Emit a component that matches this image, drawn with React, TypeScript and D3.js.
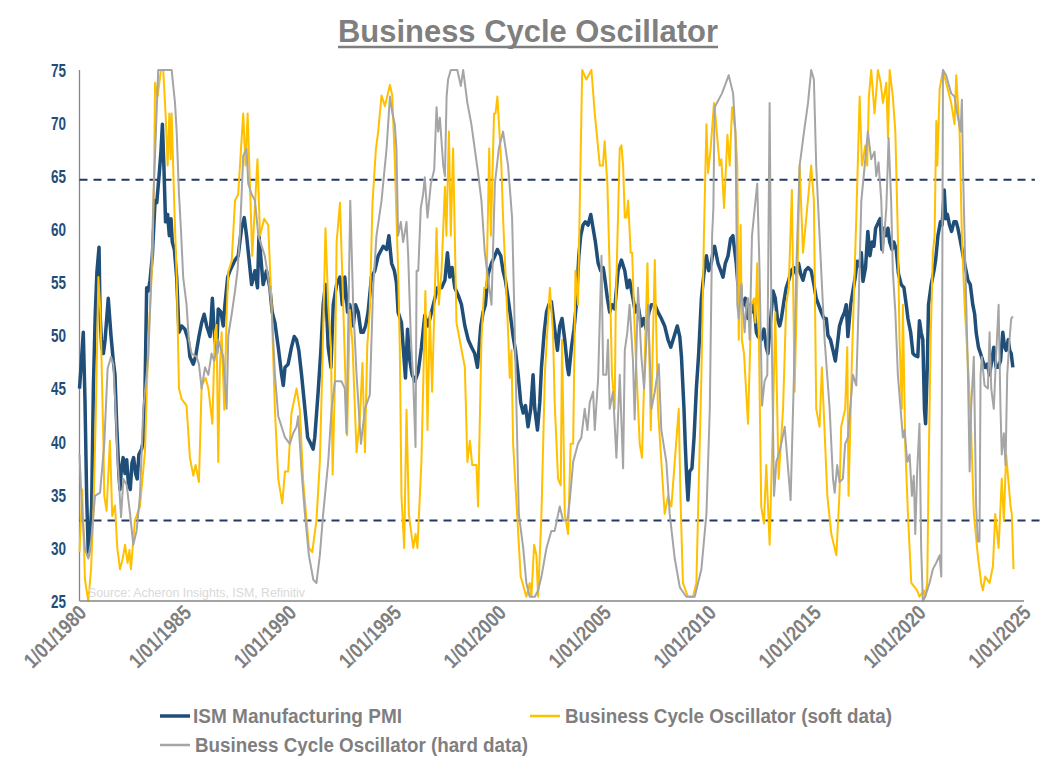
import React from "react";
import * as d3 from "d3";

type Pt = [number, number];

// ISM Manufacturing PMI  [decimal year, value]
const pmi: Pt[] = [
  [1980.0,45.0],[1980.07,47.0],[1980.18,50.3],[1980.26,44.0],[1980.34,35.0],[1980.42,29.3],[1980.5,30.5],[1980.58,34.0],[1980.66,45.0],[1980.75,52.0],[1980.83,56.0],[1980.93,58.3],[1980.98,52.0],[1981.06,48.9],[1981.14,48.3],[1981.22,49.6],[1981.37,53.5],[1981.5,50.0],[1981.61,47.6],[1981.69,46.3],[1981.77,41.7],[1981.88,36.8],[1981.93,35.5],[1982.0,37.5],[1982.08,38.5],[1982.17,37.0],[1982.25,38.3],[1982.33,36.0],[1982.42,35.5],[1982.5,38.0],[1982.58,38.5],[1982.67,37.0],[1982.75,36.5],[1982.83,38.8],[1982.96,39.3],[1983.04,40.1],[1983.12,44.7],[1983.2,54.5],[1983.28,54.2],[1983.36,55.2],[1983.47,57.5],[1983.6,62.7],[1983.68,62.5],[1983.79,65.0],[1983.88,67.3],[1983.95,69.9],[1984.02,66.0],[1984.1,60.7],[1984.2,61.4],[1984.28,59.4],[1984.36,61.0],[1984.42,58.8],[1984.52,58.1],[1984.63,55.5],[1984.74,50.3],[1984.87,50.9],[1985.02,50.6],[1985.18,49.6],[1985.26,48.0],[1985.42,47.3],[1985.53,48.0],[1985.69,49.9],[1985.82,51.2],[1985.94,52.0],[1986.06,50.9],[1986.22,49.9],[1986.33,53.5],[1986.42,50.3],[1986.53,48.3],[1986.61,52.5],[1986.74,52.2],[1986.85,50.9],[1986.93,52.9],[1987.06,55.5],[1987.17,56.1],
  [1987.41,57.1],[1987.56,57.5],[1987.72,60.1],[1987.85,61.1],[1987.96,59.4],[1988.2,54.8],[1988.36,56.1],[1988.48,54.5],[1988.55,59.4],[1988.75,54.8],[1988.91,56.1],[1989.07,54.5],[1989.18,52.2],[1989.31,51.2],[1989.47,48.9],[1989.63,46.3],[1989.71,45.3],[1989.79,47.0],[1989.94,47.3],[1990.1,48.9],[1990.23,49.9],[1990.34,49.6],[1990.45,48.6],[1990.58,46.3],[1990.74,43.1],[1990.87,40.4],[1991.02,39.8],[1991.13,39.3],[1991.21,40.4],[1991.37,44.7],[1991.5,48.6],[1991.61,52.9],[1991.72,54.8],[1991.85,48.9],[1991.98,47.0],[1992.09,52.9],[1992.25,54.8],[1992.41,55.5],[1992.52,52.9],[1992.64,55.5],[1992.77,52.2],[1992.88,52.9],[1993.04,50.9],[1993.15,52.9],[1993.28,52.2],[1993.41,50.3],[1993.52,50.3],[1993.63,50.9],[1993.75,52.2],[1993.91,55.5],[1994.07,56.1],[1994.23,57.5],[1994.47,58.4],[1994.63,58.1],[1994.74,59.4],[1994.87,56.8],[1995.0,56.1],
  [1995.1,55.0],[1995.18,52.2],[1995.34,51.2],[1995.47,47.6],[1995.53,46.0],[1995.63,50.6],[1995.74,47.6],[1995.85,46.3],[1995.98,45.7],[1996.14,46.6],[1996.29,48.9],[1996.45,51.9],[1996.61,50.9],[1996.77,52.2],[1996.93,53.5],[1997.06,54.5],[1997.25,54.5],[1997.41,55.2],[1997.53,57.8],[1997.64,55.5],[1997.75,56.4],[1997.88,54.5],[1998.04,53.8],[1998.2,52.9],[1998.36,50.9],[1998.52,49.6],[1998.68,48.9],[1998.83,48.3],[1998.96,47.0],[1999.12,50.9],[1999.23,52.2],[1999.34,52.9],[1999.47,55.8],[1999.63,56.8],[1999.79,57.5],[1999.91,58.1],[2000.07,57.5],[2000.18,56.1],[2000.29,55.2],[2000.42,53.5],[2000.55,51.6],[2000.66,49.9],[2000.77,48.6],[2000.9,46.3],[2001.02,43.7],[2001.14,42.7],[2001.25,43.4],[2001.37,41.4],[2001.5,43.1],[2001.61,46.3],[2001.69,43.1],[2001.82,41.1],[2001.93,43.7],[2002.01,47.0],[2002.14,50.3],[2002.25,52.2],[2002.36,52.9],[2002.48,53.2],
  [2002.64,50.6],[2002.77,48.6],[2002.88,50.9],[2002.99,51.6],[2003.12,49.6],[2003.25,47.0],[2003.31,46.3],[2003.44,48.9],[2003.56,50.6],[2003.67,52.9],[2003.79,57.5],[2003.88,59.4],[2003.99,60.4],[2004.1,60.7],[2004.23,60.4],[2004.36,61.4],[2004.47,60.1],[2004.58,58.8],[2004.71,56.8],[2004.83,56.1],[2004.95,56.4],[2005.02,55.5],[2005.15,53.5],[2005.26,52.2],[2005.37,52.9],[2005.5,52.5],[2005.66,56.1],[2005.82,57.1],[2005.98,56.1],[2006.1,54.5],[2006.21,55.2],[2006.37,53.5],[2006.48,52.2],[2006.61,52.9],[2006.77,50.9],[2006.88,51.6],[2007.0,50.6],[2007.13,52.2],[2007.25,52.9],[2007.41,52.9],[2007.56,52.2],[2007.72,51.6],[2007.88,50.9],[2008.04,49.6],[2008.17,48.9],[2008.28,49.6],[2008.39,50.3],[2008.48,50.9],[2008.6,49.9],[2008.68,48.0],[2008.8,43.1],[2008.86,39.8],[2008.93,36.5],[2008.99,34.5],[2009.07,37.2],[2009.18,37.5],[2009.28,40.4],[2009.39,45.0],[2009.5,48.3],[2009.63,53.5],[2009.75,55.8],[2009.87,57.5],[2009.98,56.1],[2010.1,56.8],[2010.2,58.1],
  [2010.26,58.4],[2010.42,56.8],[2010.55,56.1],[2010.66,55.5],[2010.77,56.8],[2010.9,57.5],[2011.02,59.1],[2011.13,59.4],[2011.21,58.1],[2011.29,56.8],[2011.37,54.8],[2011.45,56.1],[2011.53,53.5],[2011.66,52.9],[2011.72,53.5],[2011.85,51.6],[2011.98,52.9],[2012.04,52.2],[2012.14,52.9],[2012.25,50.3],[2012.33,49.9],[2012.48,49.6],[2012.61,50.6],[2012.72,48.9],[2012.8,48.3],[2012.88,50.3],[2012.99,52.9],[2013.04,54.2],[2013.15,53.5],[2013.25,51.6],[2013.36,50.9],[2013.44,51.6],[2013.56,53.2],[2013.67,54.5],[2013.79,55.2],[2013.91,56.1],[2014.04,56.4],[2014.15,55.8],[2014.26,56.8],[2014.36,55.8],[2014.47,55.2],[2014.58,56.1],[2014.71,56.4],[2014.86,56.1],[2014.99,54.8],[2015.1,53.5],[2015.21,52.9],[2015.34,52.2],[2015.47,51.6],[2015.58,51.6],[2015.66,50.0],[2015.78,49.6],[2015.9,48.6],[2016.01,47.6],[2016.1,49.0],[2016.21,50.9],[2016.32,51.6],[2016.45,52.2],[2016.53,52.9],[2016.61,49.9],[2016.74,52.9],[2016.85,54.2],[2016.96,55.5],[2017.05,57.0],[2017.17,56.5],[2017.25,57.8],[2017.33,55.1],[2017.45,56.4],[2017.56,59.8],[2017.66,57.5],[2017.76,58.8],[2017.85,58.4],
  [2017.93,60.1],[2018.07,60.7],[2018.15,61.0],[2018.23,58.1],[2018.33,60.1],[2018.44,59.4],[2018.52,60.1],[2018.6,58.8],[2018.71,58.1],[2018.8,58.8],[2018.91,58.1],[2019.02,55.8],[2019.15,54.8],[2019.28,54.5],[2019.39,52.9],[2019.47,51.6],[2019.6,50.3],[2019.71,48.3],[2019.82,48.1],[2019.94,48.0],[2020.02,51.4],[2020.1,50.3],[2020.18,49.6],[2020.26,43.0],[2020.31,41.7],[2020.39,46.9],[2020.45,52.9],[2020.58,54.8],[2020.71,56.1],[2020.79,57.1],[2020.9,59.4],[2021.02,60.7],[2021.1,60.4],[2021.2,63.7],[2021.27,61.0],[2021.35,61.4],[2021.45,60.4],[2021.55,59.8],[2021.66,60.7],[2021.77,60.7],[2021.85,60.1],[2021.98,58.8],[2022.1,57.5],[2022.2,56.5],[2022.33,55.2],[2022.44,54.8],[2022.56,52.9],[2022.65,52.0],[2022.72,50.3],[2022.83,48.9],[2022.93,48.3],[2023.04,47.6],[2023.15,47.0],[2023.25,47.3],[2023.36,46.3],[2023.46,47.6],[2023.56,48.9],[2023.67,47.0],[2023.77,47.0],[2023.88,47.6],[2023.99,50.3],[2024.07,49.0],[2024.15,48.6],[2024.25,49.6],[2024.32,48.6],[2024.39,48.3],[2024.47,47.0]
];

// Business Cycle Oscillator (soft data)
const soft: Pt[] = [
  [1980.0,29.6],[1980.13,35.5],[1980.26,27],[1980.42,25],[1980.55,28],[1980.66,33.2],[1980.77,42],[1980.9,55.5],[1981.0,52],[1981.14,39.8],[1981.18,34.9],[1981.29,33.5],[1981.45,40.1],[1981.56,33],[1981.69,34],[1981.8,30],[1981.93,28],[1982.06,29],[1982.17,30.3],[1982.29,28.6],[1982.38,29.8],[1982.45,28],[1982.64,32.6],[1982.88,33.9],[1983.12,39.1],[1983.28,49.6],[1983.47,56.8],[1983.56,66],[1983.6,73.8],[1983.72,72.5],[1983.88,75],[1983.99,75],[1984.1,70.9],[1984.2,66],[1984.28,70.9],[1984.34,66.6],[1984.39,70.9],[1984.52,62],[1984.63,55.5],[1984.74,45],[1984.87,44],[1985.1,43.4],[1985.26,38.5],[1985.42,36.8],[1985.53,37.8],[1985.69,36.2],[1985.82,45.3],[1986.01,46],[1986.14,45],[1986.33,41.7],[1986.45,50.3],[1986.53,51],[1986.61,38.1],[1986.69,47],[1986.77,50.3],[1986.9,43],[1987.01,52],[1987.09,56],[1987.25,57],
  [1987.41,62.7],[1987.56,63.3],[1987.8,70.9],[1987.91,66],[1988.01,70.9],[1988.23,57.5],[1988.48,66.6],[1988.6,59.4],[1988.8,61],[1988.99,60.4],[1989.15,52.9],[1989.31,43],[1989.47,36.5],[1989.66,34.2],[1989.79,37.2],[1989.94,37.2],[1990.1,42.7],[1990.34,45],[1990.5,43],[1990.66,36.2],[1990.93,30],[1991.09,29.6],[1991.29,32.6],[1991.45,38.1],[1991.56,46.3],[1991.72,60.1],[1991.85,52.9],[1991.98,48.9],[1992.06,36.9],[1992.17,45.7],[1992.25,58.8],[1992.41,62.5],[1992.53,55.1],[1992.75,40.6],[1992.88,52.4],[1993.01,49],[1993.2,39],[1993.36,42.3],[1993.48,47.4],[1993.6,39],[1993.71,49],[1993.83,52.4],[1993.96,62.5],[1994.12,67.5],[1994.23,69.2],[1994.39,72.6],[1994.55,71.6],[1994.79,73.6],[1994.9,72.6],
  [1995.02,66.6],[1995.18,56.1],[1995.26,48.9],[1995.34,34.9],[1995.47,30],[1995.58,43],[1995.69,33.2],[1995.9,30],[1996.01,31.3],[1996.1,30],[1996.29,38.1],[1996.48,54.2],[1996.58,41.1],[1996.69,52.2],[1996.8,44.7],[1997.01,60.1],[1997.12,52.9],[1997.25,56.1],[1997.41,64],[1997.48,59.4],[1997.6,69.2],[1997.69,59.4],[1997.8,67.6],[1997.96,51.2],[1998.36,47],[1998.48,38.1],[1998.6,40.1],[1998.71,37.8],[1998.91,37.8],[1998.99,33.9],[1999.15,49.6],[1999.28,54.5],[1999.39,54.5],[1999.52,67.6],[1999.6,59.4],[1999.75,70.9],[1999.82,70.9],[1999.91,72.5],[2000.1,66],[2000.18,61.1],[2000.29,56.1],[2000.42,50.3],[2000.5,46],[2000.58,48.6],[2000.66,39.8],[2000.82,34.2],[2001.02,27.3],[2001.29,25.4],[2001.45,26.7],[2001.53,25.4],[2001.66,30.3],[2001.77,29.3],[2001.85,25.4],[2002.01,33.2],[2002.17,46.3],[2002.41,54.5],[2002.56,50.3],
  [2002.64,43.7],[2002.8,36.5],[2002.93,35.9],[2002.99,49.6],[2003.12,33.2],[2003.28,31.3],[2003.4,39.8],[2003.52,39.8],[2003.63,56.1],[2003.75,52.9],[2003.95,75],[2004.15,74.1],[2004.39,75],[2004.55,70.9],[2004.79,66],[2004.94,66],[2005.02,68.3],[2005.15,64.3],[2005.26,56.1],[2005.37,46.3],[2005.5,43.1],[2005.55,52.9],[2005.74,67.6],[2005.82,67.9],[2005.9,66],[2005.98,61.1],[2006.06,61.1],[2006.14,62.7],[2006.26,57.8],[2006.33,57.8],[2006.45,50.6],[2006.69,39.8],[2006.8,38.5],[2007.06,56.8],[2007.22,41.1],[2007.41,57.1],[2007.56,43.1],[2007.88,33.2],[2008.04,34.9],[2008.2,33.9],[2008.55,43.1],[2008.64,34.2],[2008.75,26.7],[2008.99,25.4],[2009.23,25.4],[2009.39,26.7],[2009.63,46.3],[2009.75,59.4],[2009.87,69.9],[2009.95,65.3],[2010.07,67.6],[2010.23,71.9],
  [2010.26,71.5],[2010.5,66],[2010.58,66.6],[2010.71,62],[2010.87,68.9],[2010.98,66],[2011.09,71.5],[2011.25,69.2],[2011.34,66],[2011.41,49.6],[2011.5,60.4],[2011.56,49.6],[2011.66,48.3],[2011.85,41.7],[2012.01,52.9],[2012.14,53.5],[2012.2,51.2],[2012.29,56.8],[2012.37,49.6],[2012.48,33.9],[2012.61,32.3],[2012.72,37.8],[2012.88,30.3],[2013.04,42.1],[2013.15,52.2],[2013.31,36.5],[2013.52,43.1],[2013.67,52.9],[2013.79,54.5],[2013.94,63.7],[2014.07,44.7],[2014.23,57.8],[2014.31,66],[2014.47,57.8],[2014.86,66],[2014.99,62.7],[2015.1,43.1],[2015.26,41.4],[2015.37,47],[2015.63,34.9],[2015.82,31.3],[2016.06,29.3],[2016.21,35.2],[2016.29,41.4],[2016.48,43.1],[2016.58,48.9],[2016.64,34.9],[2016.8,47.6],[2017.01,61.1],[2017.17,72.5],[2017.28,66],[2017.44,67.9],[2017.53,66],[2017.61,72.5],[2017.72,75],
  [2017.88,70.9],[2018.04,75],[2018.17,73.8],[2018.28,71.9],[2018.44,73.8],[2018.52,68.6],[2018.6,75],[2018.75,72.5],[2018.87,69.2],[2018.99,59.4],[2019.07,49.6],[2019.18,43.1],[2019.23,52.9],[2019.34,39.8],[2019.47,33.2],[2019.63,26.7],[2019.91,26],[2020.02,25.4],[2020.23,26],[2020.29,25.4],[2020.39,26.7],[2020.45,36.5],[2020.55,49.6],[2020.66,57.8],[2020.74,59.4],[2020.82,70.2],[2020.87,66],[2020.98,73.2],[2021.14,75],[2021.29,73.8],[2021.53,71.9],[2021.69,69.9],[2021.77,74.5],[2021.93,69.2],[2022.04,59.4],[2022.17,52.9],[2022.36,46.3],[2022.48,41.1],[2022.61,33.2],[2022.8,29.3],[2022.96,26.7],[2023.04,26],[2023.15,27.3],[2023.36,26.7],[2023.52,28.3],[2023.63,33.2],[2023.79,30],[2023.94,36.5],[2024.04,32.6],[2024.15,38.8],[2024.36,33.9],[2024.42,33.2],[2024.5,28]
];

// Business Cycle Oscillator (hard data)
const hard: Pt[] = [
  [1980.0,38.8],[1980.13,33.2],[1980.26,29.9],[1980.42,29],[1980.55,30.6],[1980.74,34.9],[1980.98,35.2],[1981.18,39.8],[1981.34,46.9],[1981.5,48],[1981.61,47.3],[1981.72,43.1],[1981.82,38.1],[1981.98,32.9],[1982.09,36.5],[1982.25,35.9],[1982.41,33.2],[1982.56,30.3],[1982.72,31.6],[1982.88,34.9],[1983.04,43.1],[1983.28,48],[1983.4,54.5],[1983.52,62.7],[1983.64,69.2],[1983.75,75],[1984.1,75],[1984.39,75],[1984.55,71.9],[1984.63,69.2],[1984.74,63.3],[1984.83,60.1],[1984.94,55.5],[1985.1,52.9],[1985.21,49.6],[1985.34,48.3],[1985.58,48],[1985.69,47.3],[1985.82,45],[1985.98,47],[1986.14,46.3],[1986.29,48.3],[1986.42,47.6],[1986.61,49.6],[1986.85,48],[1987.01,43.1],[1987.09,50],[1987.25,52],
  [1987.41,54.2],[1987.53,56.1],[1987.64,59.4],[1987.8,66.9],[1987.96,67.6],[1988.04,64.3],[1988.2,63.3],[1988.36,62.7],[1988.52,59.4],[1988.83,57.5],[1988.99,55.5],[1989.15,52.9],[1989.31,46.3],[1989.47,42.4],[1989.79,40.4],[1990.02,39.8],[1990.18,40.8],[1990.34,41.4],[1990.42,42.4],[1990.58,37.2],[1990.74,33.2],[1990.93,29.3],[1991.14,27],[1991.29,26.7],[1991.45,29.3],[1991.61,33.2],[1991.85,38.1],[1992.01,43.1],[1992.17,45.7],[1992.48,45.7],[1992.64,45],[1992.72,40.8],[1992.9,62.7],[1993.04,52.9],[1993.2,46.3],[1993.41,39.8],[1993.6,43.1],[1993.83,44.4],[1993.99,54.5],[1994.15,59.4],[1994.39,62.7],[1994.63,67.6],[1994.79,72.5],[1994.9,71],
  [1995.02,69.9],[1995.1,67.6],[1995.18,59.4],[1995.31,60.7],[1995.42,58.8],[1995.58,60.7],[1995.66,57.5],[1995.79,49.6],[1995.9,45.7],[1996.01,39.5],[1996.06,56.1],[1996.14,56.1],[1996.26,62],[1996.37,63.3],[1996.45,64.9],[1996.58,61.1],[1996.74,64.3],[1996.9,65.6],[1997.01,71.5],[1997.09,69.2],[1997.17,70.5],[1997.33,66],[1997.41,65],[1997.49,72.5],[1997.56,74.1],[1997.69,75],[1998.0,75],[1998.17,73.5],[1998.28,75],[1998.48,71.9],[1998.67,69.9],[1998.83,67.6],[1998.99,65.3],[1999.15,62.7],[1999.31,57.8],[1999.63,52.9],[1999.79,64.3],[1999.98,67.6],[2000.18,69.2],[2000.42,66],[2000.61,61.1],[2000.71,52.9],[2000.82,43.1],[2000.93,33.2],[2001.14,30],[2001.29,26.7],[2001.45,25.4],[2001.69,25.4],[2001.85,26],[2002.01,27.3],[2002.25,30],[2002.48,31.6],
  [2002.64,31.6],[2002.88,33.9],[2003.04,32.6],[2003.25,32.6],[2003.36,34.5],[2003.52,38.1],[2003.75,39.8],[2003.91,40.4],[2004.07,43.1],[2004.2,41.1],[2004.31,43.7],[2004.47,44.7],[2004.55,41.1],[2004.71,46],[2004.87,57.5],[2004.95,46.3],[2005.1,46.3],[2005.18,49.6],[2005.26,43.1],[2005.42,44.7],[2005.58,38.5],[2005.74,46.3],[2005.9,37.5],[2005.98,48.6],[2006.1,50.3],[2006.21,52.9],[2006.37,47.6],[2006.45,42.1],[2006.61,54.5],[2006.77,48],[2006.9,45],[2007.09,52.9],[2007.25,43.1],[2007.41,44.7],[2007.6,47.3],[2007.72,41.1],[2007.96,38.1],[2008.12,33.2],[2008.36,29],[2008.6,26.3],[2008.91,25.4],[2009.31,25.4],[2009.47,26.7],[2009.63,28],[2009.87,33.2],[2010.03,43.1],[2010.14,59.4],[2010.2,62],
  [2010.26,71.5],[2010.61,72.8],[2010.93,74.5],[2011.14,72.8],[2011.25,69.2],[2011.29,62.7],[2011.34,52.9],[2011.41,51.6],[2011.53,54.8],[2011.69,50.3],[2011.77,52.9],[2011.85,53.5],[2011.93,49.6],[2012.04,59.4],[2012.17,62],[2012.29,64.3],[2012.4,56.1],[2012.52,43.4],[2012.64,45.7],[2012.77,46.3],[2012.88,71.9],[2012.96,52.9],[2013.09,34.9],[2013.2,38.1],[2013.36,39.1],[2013.6,41.4],[2013.88,34.5],[2014.04,46.3],[2014.15,56.1],[2014.31,66],[2014.52,69.2],[2014.71,71.9],[2014.86,75],[2014.99,74.1],[2015.1,66],[2015.34,56.1],[2015.5,49.6],[2015.74,43.1],[2015.9,36.5],[2015.98,35.2],[2016.1,37.8],[2016.21,36.2],[2016.37,36.5],[2016.48,39.8],[2016.61,40.4],[2016.85,46.3],[2017.01,45.3],[2017.12,52.9],[2017.25,62.7],[2017.41,66],[2017.56,69.2],[2017.72,66.6],
  [2017.88,67.3],[2017.96,65.0],[2018.07,66.3],[2018.2,62.7],[2018.28,57.8],[2018.44,62],[2018.55,68.6],[2018.67,62.7],[2018.75,56.1],[2018.87,52.2],[2018.99,46.3],[2019.12,43.1],[2019.23,40.4],[2019.31,41.1],[2019.44,38.1],[2019.55,38.8],[2019.66,34.9],[2019.75,36.8],[2019.82,31.3],[2019.91,37.2],[2020.02,41.7],[2020.1,30],[2020.18,25],[2020.29,25.4],[2020.5,26.7],[2020.66,28],[2020.82,28.6],[2020.98,29.3],[2021.06,27.3],[2021.14,75],[2021.29,74.5],[2021.53,72.8],[2021.69,72.5],[2021.82,70.9],[2021.98,69.2],[2022.04,72.2],[2022.09,66],[2022.17,59.4],[2022.25,52.9],[2022.33,46.3],[2022.41,37.2],[2022.48,43.1],[2022.61,48],[2022.72,33.9],[2022.8,30.6],[2022.88,30.6],[2022.93,46.3],[2022.99,48],[2023.12,45.3],[2023.28,45],[2023.36,50.3],[2023.44,45],[2023.56,43.1],[2023.67,48],[2023.79,52.9],[2023.88,43.1],[2023.94,38.8],[2024.04,40.8],[2024.12,37.8],[2024.2,46.3],[2024.31,49.6],[2024.39,51.6],[2024.47,51.8]
];

const yTicks = [25, 30, 35, 40, 45, 50, 55, 60, 65, 70, 75];
const xTickYears = [1980, 1985, 1990, 1995, 2000, 2005, 2010, 2015, 2020, 2025];
const upperThreshold = 64.66;
const lowerThreshold = 32.58;

const NARROW = "'Liberation Sans Narrow', 'Arial Narrow', 'Liberation Sans', Arial, sans-serif";

export default function App() {
  const W = 1056, H = 770;
  const x = d3.scaleLinear().domain([1980, 2025]).range([79.5, 1024]);
  const y = d3.scaleLinear().domain([25, 75]).range([601, 70]);
  const line = d3.line<Pt>().x(d => x(d[0])).y(d => y(d[1]));

  const navy = "#1f4e79";
  const grayTxt = "#7f7f7f";

  return (
    <svg width={W} height={H} style={{ position: "absolute", left: 0, top: 0, display: "block", background: "#fff" }}>
      {/* Title */}
      <text x={338} y={42} fontFamily={NARROW} fontWeight="bold" fontSize={32} fill={grayTxt}
        textLength={380} lengthAdjust="spacingAndGlyphs">Business Cycle Oscillator</text>
      <line x1={338} x2={718} y1={47} y2={47} stroke={grayTxt} strokeWidth={2.5} />

      {/* Y tick labels */}
      {yTicks.map(t => (
        <text key={t} x={66} y={y(t)} dy="0.36em" textAnchor="end" fontFamily={NARROW}
          fontWeight="bold" fontSize={19} fill={navy} textLength={15} lengthAdjust="spacingAndGlyphs">{t}</text>
      ))}

      {/* axes */}
      <line x1={x(1980)} x2={x(1980)} y1={y(75)} y2={y(25)} stroke="#868686" strokeWidth={1.3} />

      {/* threshold lines */}
      <line x1={x(1980)} x2={x(2025.52)} y1={y(upperThreshold)} y2={y(upperThreshold)}
        stroke="#203864" strokeWidth={2} strokeDasharray="8,6" />
      <line x1={x(1980)} x2={x(2025.9)} y1={y(lowerThreshold)} y2={y(lowerThreshold)}
        stroke="#203864" strokeWidth={2} strokeDasharray="8,6" />

      {/* series */}
      <path d={line(pmi) || ""} fill="none" stroke={navy} strokeWidth={3.5} strokeLinejoin="round" />
      <path d={line(soft) || ""} fill="none" stroke="#ffc000" strokeWidth={2} strokeLinejoin="round" />
      <path d={line(hard) || ""} fill="none" stroke="#a5a5a5" strokeWidth={2} strokeLinejoin="round" />

      <line x1={x(1980)} x2={x(2025)} y1={y(25)} y2={y(25)} stroke="#868686" strokeWidth={1.3} />

      {/* source */}
      <text x={88} y={597} fontFamily="'Liberation Sans', Arial, sans-serif" fontSize={12} fill="#d9d9d9"
        textLength={217} lengthAdjust="spacingAndGlyphs">Source: Acheron Insights, ISM, Refinitiv</text>

      {/* X tick labels */}
      {xTickYears.map(yr => (
        <text key={yr} transform={`translate(${x(yr) + 3},${609}) rotate(-45)`} textAnchor="end" dy="0.35em"
          fontFamily={NARROW} fontWeight="bold" fontSize={21} fill={grayTxt}
          textLength={78} lengthAdjust="spacingAndGlyphs">{`1/01/${yr}`}</text>
      ))}

      {/* Legend */}
      <line x1={160} x2={190} y1={716} y2={716} stroke={navy} strokeWidth={3.5} />
      <text x={193} y={716} dy="0.36em" fontFamily={NARROW} fontWeight="bold" fontSize={20} fill={grayTxt}
        textLength={209} lengthAdjust="spacingAndGlyphs">ISM Manufacturing PMI</text>
      <line x1={530} x2={560} y1={716} y2={716} stroke="#ffc000" strokeWidth={2.5} />
      <text x={565} y={716} dy="0.36em" fontFamily={NARROW} fontWeight="bold" fontSize={20} fill={grayTxt}
        textLength={327} lengthAdjust="spacingAndGlyphs">Business Cycle Oscillator (soft data)</text>
      <line x1={160} x2={190} y1={745} y2={745} stroke="#a5a5a5" strokeWidth={2.5} />
      <text x={195} y={745} dy="0.36em" fontFamily={NARROW} fontWeight="bold" fontSize={20} fill={grayTxt}
        textLength={333} lengthAdjust="spacingAndGlyphs">Business Cycle Oscillator (hard data)</text>
    </svg>
  );
}
